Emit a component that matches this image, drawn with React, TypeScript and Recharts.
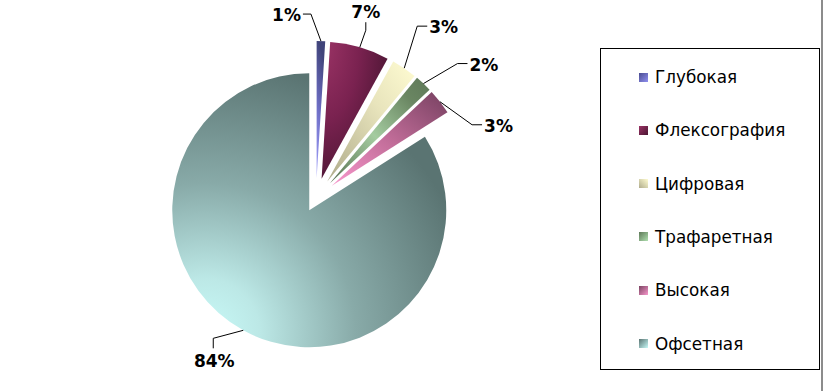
import React from 'react';
import { PieChart, Pie, Cell, Legend } from 'recharts';

// ---- data ----
const categories = ['Глубокая', 'Флексография', 'Цифровая', 'Трафаретная', 'Высокая', 'Офсетная'];
const shares = [1, 7, 3, 2, 3, 84];

// ---- styles ----
const sliceGradients = [
  { id: 'g0', type: 'linear', x1: 0, y1: 1, x2: 0.2, y2: 0, stops: [['#a0a0fa', 0], ['#7070c8', 0.5], ['#40447a', 1]] },
  { id: 'g1', type: 'radial', cx: 0, cy: 0, r: 1.15, stops: [['#9c3466', 0], ['#7a2250', 0.5], ['#461430', 1]] },
  { id: 'g2', type: 'linear', x1: 0, y1: 1, x2: 1, y2: 0, stops: [['#aeaa8a', 0], ['#e8e4bc', 0.6], ['#fffcd2', 1]] },
  { id: 'g3', type: 'linear', x1: 0, y1: 1, x2: 1, y2: 0, stops: [['#566e50', 0], ['#a4cca0', 0.45], ['#6a8662', 0.8], ['#5e7858', 1]] },
  { id: 'g4', type: 'linear', x1: 0, y1: 1, x2: 1, y2: 0, stops: [['#f898cc', 0], ['#c06c98', 0.5], ['#764060', 1]] },
  { id: 'g5', type: 'radial', cx: 0.12, cy: 0.95, r: 1.0, stops: [['#c8faf8', 0], ['#bce8e6', 0.2], ['#88aaa8', 0.55], ['#5a7472', 1]] },
];
const legendSwatches = [
  'linear-gradient(135deg, #4a4c90, #9090f0)',
  'linear-gradient(135deg, #9a3264, #4a1632)',
  'linear-gradient(45deg, #b0ac8c, #fffcd2)',
  'linear-gradient(135deg, #5e7858, #b0e0b0)',
  'linear-gradient(135deg, #7a4260, #f898cc)',
  'linear-gradient(135deg, #5a7472, #c8faf8)',
];
const explode = [20, 20, 20, 20, 20, 14];
const center = { x: 316, y: 198 };
const radius = 137;
const labelGuides = [
  { dx: -10, dy: -27, end: 'left' },
  { dx: 6, dy: -17, end: 'up' },
  { dx: 13, dy: -42, end: 'right' },
  { dx: 34, dy: -20, end: 'right' },
  { dx: 32, dy: 23, end: 'right' },
  { dx: -30, dy: 8, end: 'down' },
];

const data = categories.map((name, i) => ({ name, value: shares[i] }));
const total = shares.reduce((a, b) => a + b, 0);
const RAD = Math.PI / 180;

const offsets = shares.map((v, i) => {
  const before = shares.slice(0, i).reduce((a, b) => a + b, 0);
  const mid = ((before + v / 2) / total) * 360;
  return { x: explode[i] * Math.sin(mid * RAD), y: -explode[i] * Math.cos(mid * RAD) };
});

const makeLabel = (k: number) => (props: any) => {
  const { cx, cy, midAngle, outerRadius, index, value } = props;
  if (index !== k) return null;
  const sx = cx + outerRadius * Math.cos(-midAngle * RAD);
  const sy = cy + outerRadius * Math.sin(-midAngle * RAD);
  const g = labelGuides[k];
  const ex = sx + g.dx;
  const ey = sy + g.dy;
  let fx = ex, fy = ey, tx = ex, ty = ey, anchor = 'middle';
  if (g.end === 'left') { fx = ex - 8; tx = fx - 2; ty = ey + 1; anchor = 'end'; }
  if (g.end === 'right') { fx = ex + 10; tx = fx + 2; ty = ey + 1; anchor = 'start'; }
  if (g.end === 'up') { fy = ey - 8; ty = fy - 10; }
  if (g.end === 'down') { fy = ey + 10; ty = fy + 13; tx = ex + 1; }
  return (
    <g key={`lbl-${k}`}>
      <polyline points={`${sx},${sy} ${ex},${ey} ${fx},${fy}`} fill="none" stroke="#000" strokeWidth={1} />
      <text x={tx} y={ty} textAnchor={anchor as any} dominantBaseline="central"
        style={{ fontFamily: 'DejaVu Sans, Verdana, sans-serif', fontWeight: 'bold', fontSize: 17, fill: '#000' }}>
        {`${value}%`}
      </text>
    </g>
  );
};

const renderLegend = () => (
  <div style={{ position: 'relative', width: 220, height: 322, boxSizing: 'border-box', border: '1px solid #000', background: '#fff' }}>
    {categories.map((name, i) => (
      <div key={name} style={{ position: 'absolute', left: 38, top: 28 + i * 53.3 - 10, height: 20, display: 'flex', alignItems: 'center', whiteSpace: 'nowrap' }}>
        <span style={{ display: 'inline-block', width: 9, height: 9, background: legendSwatches[i], marginRight: 7 }} />
        <span style={{ fontFamily: 'DejaVu Sans, Verdana, sans-serif', fontSize: 16.8, color: '#000' }}>{name}</span>
      </div>
    ))}
  </div>
);

export default function App() {
  return (
    <div style={{ position: 'absolute', left: 0, top: 0, width: 824, height: 391, background: '#fff', overflow: 'hidden' }}>
      <PieChart width={824} height={391} margin={{ top: 0, right: 0, bottom: 0, left: 0 }}>
        <defs>
          {sliceGradients.map((g) =>
            g.type === 'linear' ? (
              <linearGradient key={g.id} id={g.id} x1={g.x1} y1={g.y1} x2={g.x2} y2={g.y2}>
                {g.stops.map(([c, o]) => <stop key={String(o)} offset={o as number} stopColor={c as string} />)}
              </linearGradient>
            ) : (
              <radialGradient key={g.id} id={g.id} cx={g.cx} cy={g.cy} r={g.r}>
                {g.stops.map(([c, o]) => <stop key={String(o)} offset={o as number} stopColor={c as string} />)}
              </radialGradient>
            )
          )}
        </defs>
        {categories.map((_, k) => (
          <Pie
            key={k}
            data={data}
            dataKey="value"
            nameKey="name"
            cx={center.x + offsets[k].x}
            cy={center.y + offsets[k].y}
            outerRadius={radius}
            innerRadius={0}
            startAngle={90}
            endAngle={-270}
            stroke="none"
            isAnimationActive={false}
            label={makeLabel(k)}
            labelLine={false}
            legendType="none"
          >
            {data.map((d, i) => (
              <Cell key={d.name} fill={i === k ? `url(#g${i})` : 'none'} stroke="none" />
            ))}
          </Pie>
        ))}
        <Legend content={renderLegend} layout="vertical" align="right" verticalAlign="top"
          wrapperStyle={{ left: 600, top: 48, width: 220, height: 322, right: 'auto', bottom: 'auto' }} />
      </PieChart>
      <div style={{ position: 'absolute', left: 821, top: 0, width: 2, height: 391, background: '#8c8c8c' }} />
    </div>
  );
}
